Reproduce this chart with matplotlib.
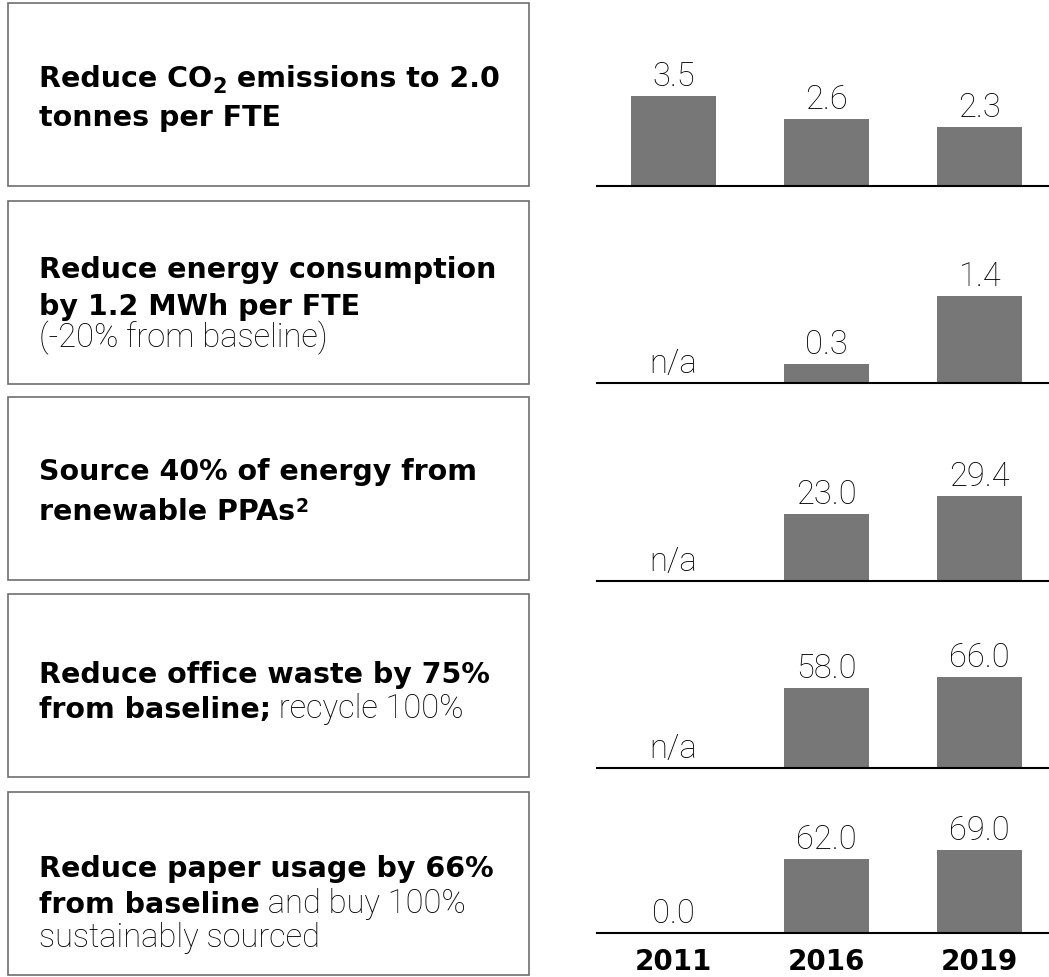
import matplotlib
matplotlib.use('Agg')
import matplotlib.pyplot as plt
from matplotlib.patches import Rectangle

# ---------------- data ----------------
years = ['2011', '2016', '2019']
co2 = [3.5, 2.6, 2.3]
energy = [None, 0.3, 1.4]
renewable = [None, 23.0, 29.4]
waste = [None, 58.0, 66.0]
paper = [0.0, 62.0, 69.0]
series = [co2, energy, renewable, waste, paper]

# goal texts: each line is a list of (text, style)
goals = [
    [[('Reduce CO', 'b'), ('2', 'sub'), (' emissions to 2.0', 'b')],
     [('tonnes per FTE', 'b')]],
    [[('Reduce energy consumption', 'b')],
     [('by 1.2 MWh per FTE', 'b')],
     [('(-20% from baseline)', 'l')]],
    [[('Source 40% of energy from', 'b')],
     [('renewable PPAs', 'b'), ('2', 'sup')]],
    [[('Reduce office waste by 75%', 'b')],
     [('from baseline;', 'b'), (' recycle 100%', 'l')]],
    [[('Reduce paper usage by 66%', 'b')],
     [('from baseline', 'b'), (' and buy 100%', 'l')],
     [('sustainably sourced', 'l')]],
]

# ---------------- layout (pixels) ----------------
W, H = 1049, 977
box_tops = [3, 201, 397, 594, 792]
box_h = 183
line_y = [[87, 126], [278, 315, 347], [480, 520], [683, 718], [877, 913, 947]]
baselines = [186, 383, 581, 768, 933]
ax_h = 110
ytops = [4.28, 1.77, 37.9, 79.7, 91.7]

BOLD = dict(family=['DejaVu Sans'], fontweight='bold', fontsize=20.5)
LIGHT = dict(family=['Roboto', 'DejaVu Sans'], fontweight='light', fontsize=23.5)
styles = {
    'b': (BOLD, 0),
    'l': (LIGHT, 0),
    'sub': (dict(BOLD, fontsize=15), 6),
    'sup': (dict(BOLD, fontsize=13.5), -8),
}

fig = plt.figure(figsize=(W / 100, H / 100), dpi=100)

ov = fig.add_axes([0, 0, 1, 1], zorder=0)
ov.set_xlim(0, W)
ov.set_ylim(H, 0)
ov.axis('off')

for i, lines in enumerate(goals):
    ov.add_patch(Rectangle((8, box_tops[i]), 521, box_h, fill=False,
                           edgecolor='#6e6e6e', linewidth=1.2))
    for segs, y in zip(lines, line_y[i]):
        prev = None
        for s, st in segs:
            kw, dy = styles[st]
            if prev is None:
                t = ov.text(39, y + dy, s, ha='left', va='baseline', color='black', **kw)
            else:
                t = ov.annotate(s, xy=(1, y + dy), xycoords=(prev, ov.transData),
                                ha='left', va='baseline', color='black', **kw)
            prev = t

# ---------------- bar rows ----------------
x = list(range(len(years)))
for i, vals in enumerate(series):
    ax = fig.add_axes([597 / W, (H - baselines[i]) / H, (W - 597) / W, ax_h / H], zorder=2)
    ax.patch.set_alpha(0)
    heights = [0 if v is None else v for v in vals]
    labels = ['n/a' if v is None else f'{v:.1f}' for v in vals]
    bars = ax.bar(x, heights, width=0.556, color='#777777', linewidth=0)
    ax.bar_label(bars, labels=labels, padding=2.2, color='black', **LIGHT)
    ax.set_xlim(-0.5, 2.454)
    ax.set_ylim(0, ytops[i])
    for sp in ['top', 'left', 'right']:
        ax.spines[sp].set_visible(False)
    ax.spines['bottom'].set_linewidth(1.5)
    ax.spines['bottom'].set_color('black')
    ax.set_yticks([])
    ax.tick_params(length=0)
    if i == len(series) - 1:
        ax.set_xticks(x)
        ax.set_xticklabels(years, **dict(BOLD, fontsize=20))
        ax.tick_params(axis='x', pad=10.5)
    else:
        ax.set_xticks([])

plt.savefig('out.png', dpi=100)
